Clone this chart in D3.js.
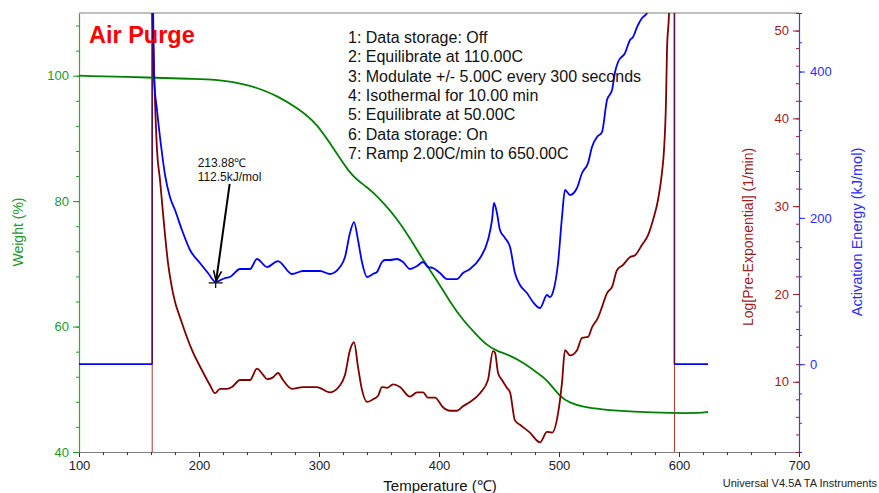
<!DOCTYPE html>
<html><head><meta charset="utf-8">
<script src="https://cdn.jsdelivr.net/npm/d3@7"></script>
<style>
body{margin:0;background:#fff}
svg{display:block;font-family:"Liberation Sans",Arial,Helvetica,sans-serif}
</style></head><body>
<svg id="chart" width="879" height="493"></svg>
<script>
// Weight loss (%) vs temperature (°C)
const weightT = [100,161.7,192.5,215,228.3,242.5,250.8,265,281.7,298.3,311.7,325.8,332.5,340,345,353.3,365,375.8,386.7,398.3,409.2,420,431.7,440,448.3,459.2,470,484.2,490,500.8,509.2,520,534.2,561.7,595,617.5,624.2];
const weightPct = [100.0,99.7,99.5,99.4,99.0,98.4,97.9,96.8,94.9,92.4,88.5,84.4,83.3,82.2,81.4,79.8,77.2,74.1,70.6,67.4,63.9,61.0,58.6,57.0,56.1,55.4,54.3,52.3,51.5,48.8,47.8,47.2,46.8,46.4,46.2,46.2,46.4];

// Log[Pre-Exponential] (1/min) vs temperature
const logAT = [161.0,163.3,165,167.5,170,174.2,178.3,185.8,194.2,202.5,209.2,213.3,217.5,223.3,227.5,234.2,242.5,248.3,253.3,256.7,261.7,265.8,270,277.5,286.7,298.3,309.2,317.5,321.7,325.8,329.2,332.5,335.8,340,345,349.2,352.5,356.7,361.7,367.5,375.8,381.7,386.7,390.8,396.7,403.3,409.2,415,420,425.8,434.2,440.8,445,446.7,449.2,452.5,456.7,459.2,463.3,467.5,475.8,484.2,490,494.2,499.2,502.5,505,509.2,515,519.2,524.2,527.5,532.5,535.8,540,544.2,548.3,553.3,559.2,563.3,569.2,574.2,578.3,582.5,585.8,587.5,589.2,590,591.7,592.5];
const logA = [52.5,42.1,36.4,33.0,29.2,23.5,20.1,16.7,13.6,11.3,9.6,8.7,9.2,9.2,9.4,10.2,10.2,11.5,10.8,10.3,10.5,11.0,10.2,9.2,9.4,9.4,8.8,9.6,10.8,13.6,14.5,11.7,9.1,7.7,8.0,8.4,9.4,9.3,9.7,9.4,8.3,8.8,8.8,8.2,8.2,7.1,6.7,6.7,7.2,7.7,8.7,10.2,13.5,13.3,11.0,10.2,9.3,8.8,5.6,5.1,4.2,3.1,4.3,4.2,6.4,9.9,13.6,13.0,13.6,15.0,15.1,16.2,17.3,18.5,20.1,20.8,22.7,23.3,24.2,24.4,25.6,26.7,28.4,30.7,33.8,36.4,42.1,47.8,52,56];

// Activation energy (kJ/mol) vs temperature
const energyT = [161.7,162.5,165,168.3,171.7,175.8,180,185.8,192.5,200.8,207.5,213.88,221.7,225.8,234.2,242.5,248.3,256.7,265.8,277.5,286.7,300.8,309.2,317.5,321.7,325.8,329.2,332.5,335.8,340,345,348.3,352.5,355,359.2,365,370,375.8,381.7,386.7,390.8,395,400.8,406.7,415,420,425.8,434.2,440.8,444.2,445.8,448.3,450.8,455,459.2,463.3,467.5,473.3,478.3,484.2,490,492.5,495,499.2,502.5,505,509.2,515,519.2,524.2,527.5,531.7,535.8,540,544.2,546.7,549.2,555,559.2,561.7,565,569.2,573.3,578];
const energyKJ = [490,392.5,347.4,299.6,258.6,228.5,210.7,183.4,156.1,138.3,124.6,112.5,117.8,119.2,130.1,130.1,143.8,132.8,141.0,123.3,127.4,127.4,123.3,132.8,146.5,179.3,194.3,169.7,139.7,119.2,123.3,126.0,139.7,142.4,142.4,143.8,139.7,130.1,134.2,139.7,132.8,131.5,124.6,116.4,116.4,124.6,130.1,145.1,169.7,197.1,220.3,206.6,183.4,172.5,160.2,124.6,108.2,97.3,85.0,76.8,94.6,91.8,98.7,138.3,201.2,238.1,231.2,240.8,261.3,275.0,296.8,310.5,317.3,361.1,374.7,399.3,413.0,425.3,443.1,447.2,460.8,473.1,480,500];

// Zero-energy segments outside the analysis window, and the window edges
const energyZeroSpans = [[100, 161.0], [596.2, 624.2]];
const analysisEdges = [161.0, 596.2];

// Marked minimum
const markT = 213.88;
const markE = 112.5;

// Axis ticks
const tempTicks = [100,200,300,400,500,600,700];
const weightTicks = [40,60,80,100];
const logATicks = [10,20,30,40,50];
const energyTicks = [0,200,400];

const methodSteps = [
  "1: Data storage: Off",
  "2: Equilibrate at 110.00C",
  "3: Modulate +/- 5.00C every 300 seconds",
  "4: Isothermal for 10.00 min",
  "5: Equilibrate at 50.00C",
  "6: Data storage: On",
  "7: Ramp 2.00C/min to 650.00C"
];

const C = {
  green: "#008000", greenText: "#22992a",
  red: "#800000", redText: "#9b1c1c",
  blue: "#0000ff", blueText: "#2b2bff",
  gray: "#7f7f7f"
};

const svg = d3.select("#chart");
const L = 79, R = 799, T = 13, B = 452;

const x = d3.scaleLinear([100, 700], [L, R]);
const yW = d3.scaleLinear([40, 110], [B, T]);
const yR = d3.scaleLinear([2, 52], [B, T]);
const yE = d3.scaleLinear([-120, 480], [B, T]);

svg.append("defs").append("clipPath").attr("id", "plot")
  .append("rect").attr("x", L).attr("y", T).attr("width", R - L).attr("height", B - T);

// Frame top line
svg.append("line").attr("x1", L).attr("x2", R).attr("y1", T).attr("y2", T)
  .attr("stroke", C.gray).attr("stroke-width", 1);

// ---- Axes ----
function styleAxis(g, color, fontSize) {
  g.selectAll("line").attr("stroke", color);
  g.selectAll("path").attr("stroke", color);
  g.selectAll("text").attr("fill", color).attr("font-size", fontSize)
    .attr("font-family", "'Liberation Sans',Arial,sans-serif");
}

// bottom
const gxMinor = svg.append("g").attr("transform", `translate(0,${B})`)
  .call(d3.axisBottom(x).tickValues(d3.range(100, 701, 20)).tickSize(3).tickSizeOuter(0).tickFormat(""));
styleAxis(gxMinor, "#333", 13);
gxMinor.select(".domain").attr("stroke", C.gray);
const gx = svg.append("g").attr("transform", `translate(0,${B})`)
  .call(d3.axisBottom(x).tickValues(tempTicks).tickSize(5).tickSizeOuter(0).tickPadding(4));
styleAxis(gx, "#222", 13);
gx.select(".domain").remove();
gx.selectAll("line").attr("stroke", "#333");

// left (weight)
const gyMinor = svg.append("g").attr("transform", `translate(${L + 1},0)`)
  .call(d3.axisLeft(yW).tickValues(d3.range(40, 111, 4)).tickSize(4).tickSizeOuter(0).tickFormat(""));
styleAxis(gyMinor, C.greenText, 13);
gyMinor.select(".domain").remove();
const gy = svg.append("g").attr("transform", `translate(${L},0)`)
  .call(d3.axisLeft(yW).tickValues(weightTicks).tickSize(6).tickSizeOuter(0).tickPadding(4));
styleAxis(gy, C.greenText, 13);
gy.select(".domain").attr("stroke", "#33aa33").attr("stroke-width", 1.2);

// right (log pre-exponential, ticks inward)
const grMinor = svg.append("g").attr("transform", `translate(${R},0)`)
  .call(d3.axisLeft(yR).tickValues(d3.range(2, 53, 2)).tickSize(3).tickSizeOuter(0).tickFormat(""));
styleAxis(grMinor, C.redText, 13);
grMinor.select(".domain").remove();
const gr = svg.append("g").attr("transform", `translate(${R},0)`)
  .call(d3.axisLeft(yR).tickValues(logATicks).tickSize(6).tickSizeOuter(0).tickPadding(4));
styleAxis(gr, C.redText, 13);
gr.select(".domain").remove();

// right (activation energy, ticks outward)
const geMinor = svg.append("g").attr("transform", `translate(${R},0)`)
  .call(d3.axisRight(yE).tickValues(d3.range(-120, 481, 40)).tickSize(3).tickSizeOuter(0).tickFormat(""));
styleAxis(geMinor, C.blueText, 13);
geMinor.select(".domain").remove();
const ge = svg.append("g").attr("transform", `translate(${R},0)`)
  .call(d3.axisRight(yE).tickValues(energyTicks).tickSize(6).tickSizeOuter(0).tickPadding(5));
styleAxis(ge, C.blueText, 13);
ge.select(".domain").attr("stroke", "#3a3aff").attr("stroke-width", 1.2);

// ---- Curves ----
const plot = svg.append("g").attr("clip-path", "url(#plot)");

// window edges: log pre-exponential jumps across the full range,
// activation energy jumps from zero to off-scale
analysisEdges.forEach(t => {
  plot.append("line").attr("x1", x(t)).attr("x2", x(t))
    .attr("y1", yR(2)).attr("y2", yR(52))
    .attr("stroke", "#b83030").attr("stroke-width", 1);
  plot.append("line").attr("x1", x(t)).attr("x2", x(t))
    .attr("y1", yE(0)).attr("y2", yE(480))
    .attr("stroke", "#5a1048").attr("stroke-width", 1.6);
});

energyZeroSpans.forEach(([a, b]) => {
  plot.append("line").attr("x1", x(a)).attr("x2", x(b))
    .attr("y1", yE(0)).attr("y2", yE(0))
    .attr("stroke", C.blue).attr("stroke-width", 1.8);
});

const line = (ys, curve) => d3.line().curve(curve).x(d => x(d[0])).y(d => ys(d[1]));

plot.append("path").datum(d3.zip(weightT, weightPct))
  .attr("d", line(yW, d3.curveBasis)).attr("fill", "none")
  .attr("stroke", C.green).attr("stroke-width", 1.8).attr("stroke-linejoin", "round");

plot.append("path").datum(d3.zip(logAT, logA))
  .attr("d", line(yR, d3.curveMonotoneX)).attr("fill", "none")
  .attr("stroke", C.red).attr("stroke-width", 1.8).attr("stroke-linejoin", "round");

plot.append("path").datum(d3.zip(energyT, energyKJ))
  .attr("d", line(yE, d3.curveMonotoneX)).attr("fill", "none")
  .attr("stroke", C.blue).attr("stroke-width", 1.8).attr("stroke-linejoin", "round");

// ---- Minimum marker with arrow ----
const mx = x(markT), my = yE(markE);
svg.append("line").attr("x1", mx - 7).attr("x2", mx + 7).attr("y1", my + 1).attr("y2", my + 1)
  .attr("stroke", "#111").attr("stroke-width", 1.3);
svg.append("line").attr("x1", mx).attr("x2", mx).attr("y1", my - 3).attr("y2", my + 6)
  .attr("stroke", "#111").attr("stroke-width", 1.3);
const ax0 = mx + 14, ay0 = my - 98;
svg.append("line").attr("x1", ax0).attr("y1", ay0).attr("x2", mx + 0.5).attr("y2", my - 1)
  .attr("stroke", "#000").attr("stroke-width", 2);
{
  const ang = Math.atan2((my - 1) - ay0, (mx + 0.5) - ax0);
  const len = 11, spread = 0.38;
  const tipX = mx + 0.5, tipY = my - 1;
  const p = (a) => [tipX - len * Math.cos(a), tipY - len * Math.sin(a)];
  const [l1x, l1y] = p(ang - spread), [l2x, l2y] = p(ang + spread);
  svg.append("path").attr("d", `M${l1x},${l1y}L${tipX},${tipY}L${l2x},${l2y}`)
    .attr("fill", "none").attr("stroke", "#000").attr("stroke-width", 1.6);
}
svg.append("text").attr("x", mx - 18).attr("y", my - 115).attr("font-size", 12).attr("fill", "#111")
  .text(`${markT.toFixed(2)}℃`);
svg.append("text").attr("x", mx - 18).attr("y", my - 101).attr("font-size", 12).attr("fill", "#111")
  .text(`${markE}kJ/mol`);

// ---- Text ----
svg.append("text").attr("x", 89).attr("y", 43).attr("font-size", 23.5).attr("font-weight", "bold")
  .attr("fill", "#ff0000").text("Air Purge");

svg.append("g").selectAll("text").data(methodSteps).join("text")
  .attr("x", 348).attr("y", (d, i) => 43 + i * 19.3)
  .attr("font-size", 16).attr("fill", "#111").text(d => d);

svg.append("text").attr("x", 440).attr("y", 491).attr("text-anchor", "middle")
  .attr("font-size", 15).attr("fill", "#111").text("Temperature (℃)");

svg.append("text").attr("transform", "translate(23,232) rotate(-90)").attr("text-anchor", "middle")
  .attr("font-size", 14).attr("fill", C.greenText).text("Weight (%)");

svg.append("text").attr("transform", "translate(753,237) rotate(-90)").attr("text-anchor", "middle")
  .attr("font-size", 14).attr("fill", C.redText).text("Log[Pre-Exponential] (1/min)");

svg.append("text").attr("transform", "translate(862,232) rotate(-90)").attr("text-anchor", "middle")
  .attr("font-size", 14.5).attr("fill", C.blueText).text("Activation Energy (kJ/mol)");

svg.append("text").attr("x", 877).attr("y", 487).attr("text-anchor", "end")
  .attr("font-size", 11).attr("fill", "#222").text("Universal V4.5A TA Instruments");
</script>
</body></html>
